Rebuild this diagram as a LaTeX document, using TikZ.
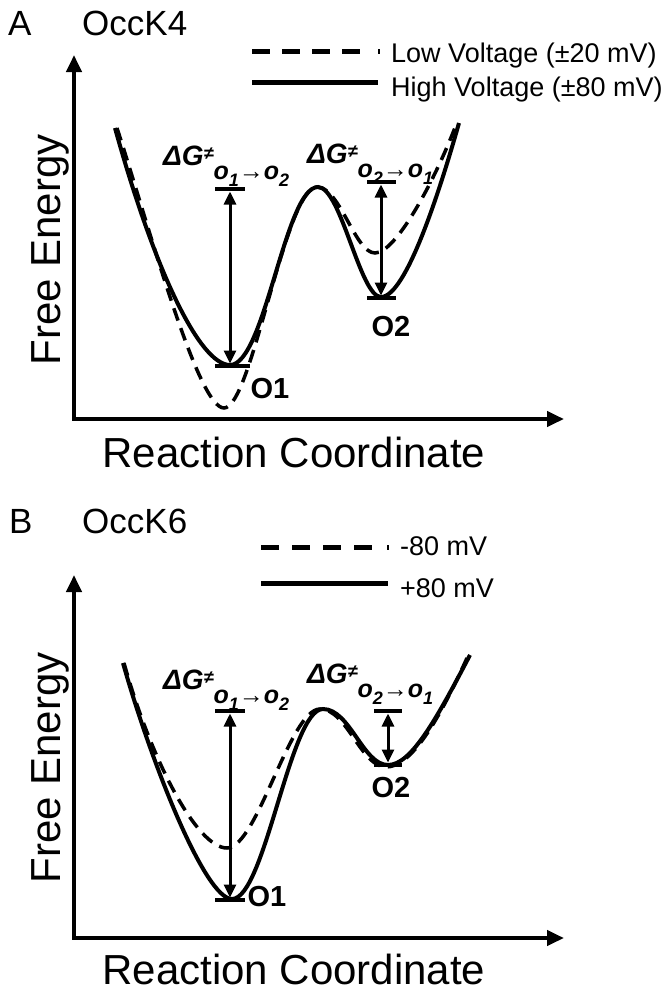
\documentclass[tikz,border=0pt]{standalone}
\usepackage{fontspec}
\setmainfont{Liberation Sans}
\usetikzlibrary{arrows.meta}
\newcommand\fsz[1]{\fontsize{#1}{#1}\selectfont}
\newcommand\dg[2]{\fsz{28}\bfseries\itshape ΔG\raisebox{6pt}{\fsz{18}≠}\raisebox{-14pt}{\fsz{25}o\raisebox{-7pt}{\fsz{18}#1}→o\raisebox{-7pt}{\fsz{18}#2}}}
\begin{document}
\begin{tikzpicture}[x=1pt,y=-1pt,
  axisline/.style={line width=4pt,line join=miter,{Triangle[length=17pt,width=15pt]}-{Triangle[length=17pt,width=15pt]}},
  solidc/.style={line width=4pt},
  dashc/.style={line width=3.5pt,dash pattern=on 13pt off 8pt},
  gaparrow/.style={line width=3pt,shorten <=2.5pt,shorten >=2.5pt,{Triangle[length=13pt,width=12pt]}-{Triangle[length=13pt,width=12pt]}},
  barline/.style={line width=4.5pt},
  legline/.style={line width=5pt},
  title/.style={inner sep=0pt,anchor=base west,font=\fsz{35}},
  legtext/.style={inner sep=0pt,anchor=base west,font=\fsz{27}},
  axlab/.style={inner sep=0pt,anchor=base,font=\fsz{42}},
  olab/.style={inner sep=0pt,font=\fsz{29}\bfseries},
  dglab/.style={inner sep=0pt,anchor=base west}]
\fill[white] (0,0) rectangle (671,994);
\useasboundingbox (0,0) rectangle (671,994);

% ================= Panel A =================
\node[title] (tA) at (8,35) {A};
\node[title] (nA) at (82,35) {OccK4};
% legend
\coordinate (lA1s) at (252,51); \coordinate (lA1e) at (380,51);
\draw[legline,dash pattern=on 18pt off 12pt on 18pt off 12pt on 18pt off 12pt on 18pt off 18pt on 2pt off 60pt] (lA1s) -- (lA1e);
\node[legtext] (ltA1) at (391,62) {Low Voltage (±20 mV)};
\coordinate (lA2s) at (252,82); \coordinate (lA2e) at (378,82);
\draw[legline] (lA2s) -- (lA2e);
\node[legtext] (ltA2) at (391,96) {High Voltage (±80 mV)};
% axes
\coordinate (Ay) at (74,55); \coordinate (Ao) at (74,419); \coordinate (Ax) at (564,419);
\draw[axisline] (Ay) -- (Ao) -- (Ax);
\node[axlab,rotate=90] (feA) at (60,250) {Free Energy};
\node[axlab] (rcA) at (294,467) {Reaction Coordinate};
% curves
\draw[dashc] (117,128) .. controls (150,230) and (198,408) .. (224,408)
  .. controls (252,408) and (285,187) .. (317,187)
  .. controls (340,187) and (355,253) .. (375,253)
  .. controls (396,253) and (435,180) .. (456,125);
\draw[solidc] (115,128) .. controls (155,272) and (200,365) .. (230,365)
  .. controls (265,365) and (285,187) .. (318,187)
  .. controls (341,187) and (360,297) .. (381,297)
  .. controls (406,297) and (440,190) .. (459,123);
% gap arrows
\coordinate (A1t) at (230,189); \coordinate (A1b) at (230,366);
\coordinate (A1tl) at (215,189); \coordinate (A1tr) at (245,189);
\coordinate (A1bl) at (215,366); \coordinate (A1br) at (250,366);
\draw[barline] (A1tl) -- (A1tr);
\draw[barline] (A1bl) -- (A1br);
\draw[gaparrow] (A1t) -- (A1b);
\coordinate (A2t) at (381,182); \coordinate (A2b) at (381,298);
\coordinate (A2tl) at (367,182); \coordinate (A2tr) at (396,182);
\coordinate (A2bl) at (367,298); \coordinate (A2br) at (396,298);
\draw[barline] (A2tl) -- (A2tr);
\draw[barline] (A2bl) -- (A2br);
\draw[gaparrow] (A2t) -- (A2b);
\node[dglab] (dA1) at (163,165) {\dg{1}{2}};
\node[dglab] (dA2) at (307,163) {\dg{2}{1}};
\node[olab] (oA1) at (270,389) {O1};
\node[olab] (oA2) at (391,327) {O2};

% ================= Panel B =================
\node[title] (tB) at (9,533) {B};
\node[title] (nB) at (82,533) {OccK6};
\coordinate (lB1s) at (261,547); \coordinate (lB1e) at (389,547);
\draw[legline,dash pattern=on 18pt off 13pt on 18pt off 13pt on 18pt off 13pt on 18pt off 15pt on 2pt off 60pt] (lB1s) -- (lB1e);
\node[legtext] (ltB1) at (400,555) {-80 mV};
\coordinate (lB2s) at (261,583); \coordinate (lB2e) at (388,583);
\draw[legline] (lB2s) -- (lB2e);
\node[legtext] (ltB2) at (400,597) {+80 mV};
\coordinate (By) at (74,575); \coordinate (Bo) at (74,938); \coordinate (Bx) at (564,938);
\draw[axisline] (By) -- (Bo) -- (Bx);
\node[axlab,rotate=90] (feB) at (60,768) {Free Energy};
\node[axlab] (rcB) at (294,984) {Reaction Coordinate};
\draw[dashc] (124,663) .. controls (151,760) and (197,848) .. (227,848)
  .. controls (257,848) and (290,709) .. (320,709)
  .. controls (347,709) and (361,767) .. (386,767)
  .. controls (411,767) and (438,722) .. (467,658);
\draw[solidc] (123,663) .. controls (151,762) and (205,899) .. (232,899)
  .. controls (265,899) and (290,709) .. (323,709)
  .. controls (350,709) and (363,765) .. (388,765)
  .. controls (411,765) and (436,720) .. (470,655);
\coordinate (B1t) at (230,711); \coordinate (B1b) at (230,900);
\coordinate (B1tl) at (215,711); \coordinate (B1tr) at (245,711);
\coordinate (B1bl) at (215,900); \coordinate (B1br) at (245,900);
\draw[barline] (B1tl) -- (B1tr);
\draw[barline] (B1bl) -- (B1br);
\draw[gaparrow] (B1t) -- (B1b);
\coordinate (B2t) at (388,711); \coordinate (B2b) at (388,765);
\coordinate (B2tl) at (374,711); \coordinate (B2tr) at (402,711);
\coordinate (B2bl) at (374,765); \coordinate (B2br) at (402,765);
\draw[barline] (B2tl) -- (B2tr);
\draw[barline] (B2bl) -- (B2br);
\draw[gaparrow] (B2t) -- (B2b);
\node[dglab] (dB1) at (163,689) {\dg{1}{2}};
\node[dglab] (dB2) at (307,683) {\dg{2}{1}};
\node[olab] (oB1) at (267,897) {O1};
\node[olab] (oB2) at (391,788) {O2};
\end{tikzpicture}
\end{document}
